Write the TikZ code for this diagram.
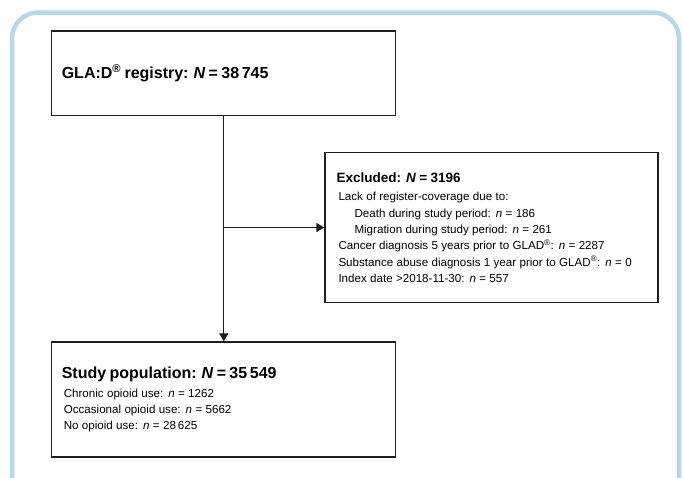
\documentclass[tikz,border=0pt]{standalone}
\usepackage{fontspec}
\setmainfont{Liberation Sans}
\usetikzlibrary{positioning,arrows.meta}
\definecolor{frameblue}{RGB}{181, 215, 234}
\definecolor{boxline}{RGB}{30, 30, 30}

\newcommand{\headfont}{\fontsize{16}{19}\selectfont\bfseries}
\newcommand{\exclfont}{\fontsize{13.5}{16}\selectfont\bfseries}
\newcommand{\itemfont}{\fontsize{11.6}{16.3}\selectfont}
\newcommand{\regmark}{\textsuperscript{®}}

\begin{document}
\begin{tikzpicture}[x=1pt, y=-1pt,
        flowbox/.style={draw=boxline, line width=1.3pt, align=left,
                    inner xsep=10pt, inner ysep=0pt},
        outerframe/.style={draw=frameblue, line width=4.5pt, rounded corners=26pt},
        flow/.style={-{Triangle[length=8pt,width=9pt]}, line width=1.3pt, draw=boxline}
    ]
    \clip (0,0) rectangle (683,477);

    % Outer frame, open at the bottom
    \draw[outerframe] (12,530) -- (12,12.5) -- (679,12.5) -- (679,530);

    % Registry box
    \node[flowbox, text width=324pt, minimum height=84.7pt] (registry) at (223.8,73.4)
        {\headfont GLA:D\regmark{} registry: \textit{N} = 38\,745};

    % Excluded box
    \node[flowbox, inner xsep=11.5pt, text width=310pt, minimum height=150pt] (excluded) at (491.5,227.5)
        {{\exclfont Excluded: \textit{N} = 3196\par}\vspace{2.4pt}
         \itemfont\hspace*{2pt}Lack of register-coverage due to:\\
         \hspace*{18pt}Death during study period: \textit{n} = 186\\
         \hspace*{18pt}Migration during study period: \textit{n} = 261\\
         \hspace*{2pt}Cancer diagnosis 5 years prior to GLAD\regmark: \textit{n} = 2287\\
         \hspace*{2pt}Substance abuse diagnosis 1 year prior to GLAD\regmark: \textit{n} = 0\\
         \hspace*{2pt}Index date >2018-11-30: \textit{n} = 557\par};

    % Study population box
    \node[flowbox, text width=324pt, minimum height=115pt] (studypop) at (223.8,399.5)
        {{\headfont Study population: \textit{N} = 35\,549\par}\vspace{2.4pt}
         \itemfont\hspace*{2pt}Chronic opioid use: \textit{n} = 1262\\
         \hspace*{2pt}Occasional opioid use: \textit{n} = 5662\\
         \hspace*{2pt}No opioid use: \textit{n} = 28\,625\par};

    % Connectors
    \draw[flow] (registry.south) -- (studypop.north);
    \coordinate (split) at (registry.south |- excluded.west);
    \draw[flow] (split) -- (excluded.west);

\end{tikzpicture}
\end{document}
